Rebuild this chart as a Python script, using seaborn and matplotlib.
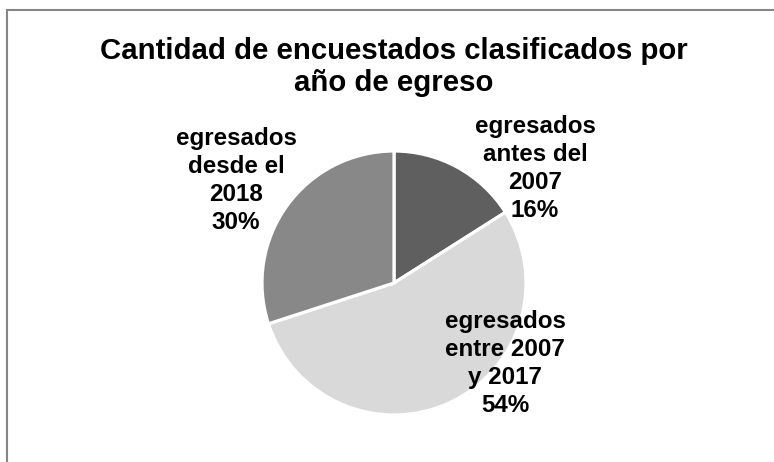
import matplotlib
matplotlib.use("Agg")
import matplotlib.pyplot as plt
import seaborn as sns

# Survey respondents grouped by graduation year
categories = ["egresados\nantes del\n2007", "egresados\nentre 2007\ny 2017", "egresados\ndesde el\n2018"]
values = [16, 54, 30]
slice_colors = ["#5f5f5f", "#d9d9d9", "#888888"]
title = "Cantidad de encuestados clasificados por\naño de egreso"

sns.set_theme(style="white")
plt.rcParams["font.family"] = ["Liberation Sans", "DejaVu Sans"]

W, H = 774, 462
fig = plt.figure(figsize=(W / 100, H / 100), dpi=100)
ax = fig.add_axes([0, 0, 1, 1])

total = sum(values)
wedges, _ = ax.pie(
    values,
    colors=slice_colors,
    startangle=90,
    counterclock=False,
    center=(394, H - 283),
    radius=132,
    wedgeprops=dict(edgecolor="white", linewidth=2.3),
)
ax.set_xlim(0, W)
ax.set_ylim(0, H)
ax.set_aspect("equal")
ax.axis("off")

# label anchors (centre x, baseline of last line) in pixel space
label_anchor = [(535, H - 217), (505, H - 412), (236, H - 229)]
for cat, val, (lx, ly) in zip(categories, values, label_anchor):
    ax.text(lx, ly, f"{cat}\n{round(100 * val / total)}%", ha="center", va="baseline",
            multialignment="center", fontsize=17.4, fontweight="bold", color="#000000",
            linespacing=1.28)

ax.text(394, H - 91, title, ha="center", va="baseline", multialignment="center",
        fontsize=21.2, fontweight="bold", color="#000000", linespacing=1.17)

# chart-area frame (only top and left edges fall inside the canvas)
frame = plt.Rectangle((7 / W, -0.2), 1.5, 1.2 - 10 / H, transform=fig.transFigure,
                      fill=False, edgecolor="#868686", linewidth=1.5)
fig.patches.append(frame)

fig.savefig("out.png", dpi=100, facecolor="white")
